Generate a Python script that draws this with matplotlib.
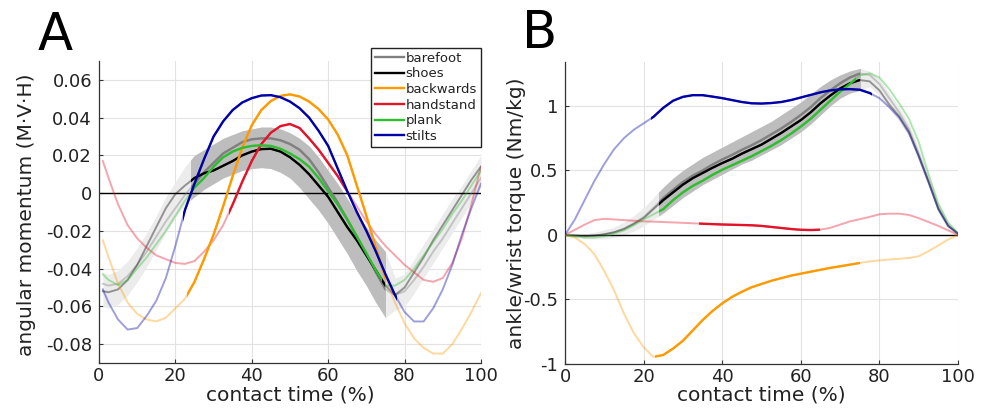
import numpy as np
import matplotlib
matplotlib.use("Agg")
import matplotlib.pyplot as plt
from matplotlib.patches import Rectangle

plt.rcParams['font.family'] = 'DejaVu Sans'
plt.rcParams['axes.unicode_minus'] = False

# ---------------- data ----------------
x_b = np.arange(0, 100.1, 2.5)
x_a = np.r_[1, x_b[1:]]

series = ['barefoot', 'shoes', 'backwards', 'handstand', 'plank', 'stilts']
colors = ['#808080', '#000000', '#FF9900', '#E3132A', '#2DBE2D', '#0000A8']
# (start, end) of the bold part of each curve, % contact time
bold_range = [(24, 75), (24, 75), (23, 75), (34, 65), (24, 74), (22, 78)]

# A: angular momentum
barefoot_a = [-0.048, -0.049, -0.048, -0.044, -0.038, -0.031, -0.023, -0.015, -0.008, -0.001,
              0.005, 0.011, 0.016, 0.021, 0.024, 0.027, 0.0285, 0.029, 0.029, 0.028,
              0.026, 0.023, 0.018, 0.011, 0.003, -0.005, -0.014, -0.023, -0.032, -0.042,
              -0.051, -0.054, -0.052, -0.046, -0.039, -0.031, -0.024, -0.016, -0.008, 0.000, 0.008]
shoes_a = [-0.052, -0.0525, -0.051, -0.046, -0.038, -0.028, -0.018, -0.008, -0.0005, 0.004,
           0.008, 0.0105, 0.012, 0.0145, 0.017, 0.020, 0.022, 0.0233, 0.0235, 0.022,
           0.019, 0.015, 0.010, 0.004, -0.002, -0.010, -0.018, -0.025, -0.033, -0.041,
           -0.049, -0.054, -0.050, -0.042, -0.034, -0.025, -0.017, -0.009, -0.001, 0.007, 0.014]
backwards_a = [-0.025, -0.034, -0.048, -0.058, -0.064, -0.067, -0.068, -0.066, -0.061, -0.056,
               -0.047, -0.035, -0.022, -0.007, 0.009, 0.024, 0.036, 0.044, 0.0488, 0.0515,
               0.0523, 0.0512, 0.0485, 0.0445, 0.039, 0.031, 0.020, 0.004, -0.012, -0.029,
               -0.045, -0.058, -0.069, -0.077, -0.082, -0.085, -0.085, -0.080, -0.072, -0.063, -0.053]
handstand_a = [0.017, 0.008, -0.006, -0.017, -0.024, -0.029, -0.033, -0.035, -0.037, -0.0375,
               -0.036, -0.031, -0.025, -0.017, -0.006, 0.006, 0.017, 0.026, 0.032, 0.0355,
               0.0366, 0.0345, 0.029, 0.023, 0.016, 0.009, 0.001, -0.007, -0.015, -0.022,
               -0.028, -0.033, -0.038, -0.042, -0.046, -0.047, -0.045, -0.037, -0.024, -0.006, 0.014]
plank_a = [-0.043, -0.046, -0.0488, -0.046, -0.040, -0.034, -0.027, -0.020, -0.012, -0.004,
           0.003, 0.008, 0.014, 0.019, 0.022, 0.024, 0.025, 0.0253, 0.025, 0.0235,
           0.021, 0.018, 0.014, 0.008, 0.001, -0.006, -0.014, -0.023, -0.032, -0.041,
           -0.049, -0.049, -0.046, -0.040, -0.033, -0.026, -0.019, -0.011, -0.004, 0.004, 0.012]
stilts_a = [-0.051, -0.058, -0.067, -0.0723, -0.0715, -0.065, -0.057, -0.045, -0.028, -0.009,
            0.005, 0.018, 0.030, 0.038, 0.044, 0.048, 0.0503, 0.0517, 0.0519, 0.0508,
            0.0485, 0.045, 0.040, 0.033, 0.025, 0.013, 0.001, -0.010, -0.020, -0.031,
            -0.043, -0.054, -0.063, -0.068, -0.068, -0.061, -0.051, -0.038, -0.022, -0.008, 0.005]
band_lo_a = [-0.060, -0.061, -0.059, -0.054, -0.047, -0.039, -0.030, -0.021, -0.013, -0.006,
             -0.002, 0.002, 0.005, 0.008, 0.010, 0.012, 0.013, 0.0135, 0.013, 0.011,
             0.008, 0.003, -0.003, -0.009, -0.016, -0.024, -0.032, -0.041, -0.049, -0.058,
             -0.066, -0.062, -0.060, -0.053, -0.045, -0.037, -0.029, -0.021, -0.013, -0.005, 0.003]
band_hi_a = [-0.042, -0.043, -0.041, -0.036, -0.029, -0.021, -0.012, -0.002, 0.006, 0.014,
             0.020, 0.023, 0.026, 0.029, 0.031, 0.033, 0.034, 0.035, 0.035, 0.034,
             0.032, 0.029, 0.025, 0.019, 0.012, 0.005, -0.003, -0.011, -0.018, -0.025,
             -0.031, -0.045, -0.043, -0.035, -0.027, -0.019, -0.011, -0.003, 0.004, 0.012, 0.020]

# B: ankle/wrist torque
barefoot_b = [0, -0.005, -0.01, -0.005, 0.005, 0.022, 0.05, 0.09, 0.14, 0.21,
              0.285, 0.35, 0.41, 0.46, 0.50, 0.545, 0.585, 0.62, 0.66, 0.695,
              0.735, 0.78, 0.825, 0.875, 0.93, 0.99, 1.06, 1.12, 1.175, 1.22,
              1.25, 1.24, 1.17, 1.06, 0.95, 0.82, 0.63, 0.42, 0.21, 0.07, 0.01]
shoes_b = [0, -0.005, -0.01, -0.005, 0.005, 0.02, 0.045, 0.085, 0.13, 0.20,
           0.27, 0.33, 0.39, 0.44, 0.48, 0.52, 0.557, 0.59, 0.63, 0.665,
           0.70, 0.745, 0.79, 0.84, 0.89, 0.95, 1.02, 1.08, 1.135, 1.175,
           1.20, 1.19, 1.12, 1.01, 0.92, 0.80, 0.61, 0.41, 0.20, 0.07, 0.01]
backwards_b = [0, -0.02, -0.07, -0.15, -0.28, -0.43, -0.61, -0.76, -0.87, -0.945,
               -0.93, -0.88, -0.82, -0.74, -0.66, -0.59, -0.53, -0.48, -0.44, -0.405,
               -0.38, -0.355, -0.335, -0.315, -0.30, -0.285, -0.27, -0.255, -0.243, -0.23,
               -0.217, -0.205, -0.197, -0.19, -0.185, -0.178, -0.165, -0.125, -0.08, -0.035, 0.0]
handstand_b = [0, 0.04, 0.08, 0.115, 0.125, 0.12, 0.115, 0.11, 0.105, 0.103,
               0.10, 0.097, 0.094, 0.09, 0.087, 0.084, 0.081, 0.079, 0.077, 0.075,
               0.07, 0.062, 0.054, 0.046, 0.04, 0.038, 0.041, 0.055, 0.08, 0.105,
               0.122, 0.14, 0.16, 0.165, 0.165, 0.155, 0.13, 0.10, 0.07, 0.035, 0.0]
plank_b = [0, -0.01, -0.02, -0.02, -0.01, 0.01, 0.035, 0.075, 0.12, 0.16,
           0.20, 0.27, 0.33, 0.38, 0.42, 0.465, 0.505, 0.54, 0.575, 0.61,
           0.65, 0.69, 0.735, 0.785, 0.84, 0.90, 0.97, 1.04, 1.11, 1.17,
           1.235, 1.253, 1.22, 1.13, 1.02, 0.90, 0.72, 0.47, 0.24, 0.09, 0.015]
stilts_b = [0, 0.12, 0.27, 0.42, 0.55, 0.665, 0.75, 0.815, 0.865, 0.915,
            0.985, 1.04, 1.07, 1.083, 1.083, 1.072, 1.06, 1.045, 1.03, 1.02,
            1.018, 1.022, 1.03, 1.045, 1.065, 1.085, 1.105, 1.12, 1.128, 1.13,
            1.125, 1.10, 1.06, 0.99, 0.91, 0.79, 0.61, 0.41, 0.20, 0.07, 0.01]
band_lo_b = [-0.01, -0.02, -0.03, -0.03, -0.03, -0.02, 0.00, 0.03, 0.07, 0.12,
             0.17, 0.23, 0.29, 0.34, 0.39, 0.43, 0.47, 0.51, 0.55, 0.58,
             0.62, 0.66, 0.70, 0.75, 0.80, 0.86, 0.93, 1.00, 1.06, 1.10,
             1.12, 1.15, 1.08, 0.98, 0.88, 0.76, 0.57, 0.37, 0.17, 0.04, 0.0]
band_hi_b = [0.01, 0.01, 0.01, 0.02, 0.04, 0.06, 0.10, 0.15, 0.21, 0.29,
             0.37, 0.44, 0.50, 0.55, 0.60, 0.64, 0.68, 0.72, 0.76, 0.80,
             0.84, 0.88, 0.93, 0.98, 1.03, 1.09, 1.15, 1.20, 1.24, 1.27,
             1.29, 1.27, 1.21, 1.10, 0.99, 0.86, 0.67, 0.46, 0.25, 0.11, 0.02]

data_a = [barefoot_a, shoes_a, backwards_a, handstand_a, plank_a, stilts_a]
data_b = [barefoot_b, shoes_b, backwards_b, handstand_b, plank_b, stilts_b]


def clip_x(artist, ax, x0, x1):
    r = Rectangle((x0, -100), x1 - x0, 200, transform=ax.transData)
    artist.set_clip_path(r)


def panel(ax, x, ys, lo, hi):
    # light band over whole cycle, darker over the bold range
    ax.fill_between(x, lo, hi, color='#ECECEC', lw=0, zorder=1)
    dark = ax.fill_between(x, lo, hi, color='#BDBDBD', lw=0, zorder=1.5)
    clip_x(dark, ax, 24, 75)
    ax.axhline(0, color='k', lw=1.0, zorder=2)
    for y, c in zip(ys, colors):
        ax.plot(x, y, color=c, lw=1.4, alpha=0.38, zorder=3, solid_joinstyle='round')
    handles = []
    for y, c, (s, e), name in zip(ys, colors, bold_range, series):
        ln, = ax.plot(x, y, color=c, lw=1.7, zorder=4, label=name, solid_joinstyle='round')
        clip_x(ln, ax, s, e)
        handles.append(ln)
    ax.set_xlim(0, 100)
    ax.set_xticks([0, 20, 40, 60, 80, 100])
    ax.grid(True, color='#E2E2E2', lw=0.8)
    ax.set_axisbelow(True)
    for sp in ['top', 'right']:
        ax.spines[sp].set_visible(False)
    for sp in ['left', 'bottom']:
        ax.spines[sp].set_color('#333333')
        ax.spines[sp].set_linewidth(0.9)
    ax.tick_params(direction='in', length=3, labelsize=13, colors='#333333',
                   labelcolor='#222222')
    ax.tick_params(axis='x', pad=3)
    ax.tick_params(axis='y', pad=5)
    ax.set_xlabel('contact time (%)', fontsize=14.5, color='#222222')
    return handles


fig = plt.figure(figsize=(9.89, 4.09), dpi=100)
axA = fig.add_axes([0.1001, 0.1125, 0.3862, 0.7384])
axB = fig.add_axes([0.5713, 0.110, 0.3974, 0.7384])

h = panel(axA, x_a, data_a, band_lo_a, band_hi_a)
axA.set_ylim(-0.09, 0.07)
axA.set_yticks([-0.08, -0.06, -0.04, -0.02, 0, 0.02, 0.04, 0.06])
axA.set_yticklabels(['-0.08', '-0.06', '-0.04', '-0.02', '0', '0.02', '0.04', '0.06'])
axA.set_ylabel('angular momentum (M\u00b7V\u00b7H)', fontsize=14.5, color='#222222')
axA.yaxis.set_label_coords(-0.165, 0.49)
axA.xaxis.set_label_coords(0.5, -0.074)

panel(axB, x_b, data_b, band_lo_b, band_hi_b)
axB.set_ylim(-1, 1.34)
axB.set_yticks([-1, -0.5, 0, 0.5, 1])
axB.set_yticklabels(['-1', '-0.5', '0', '0.5', '1'])
axB.set_ylabel('ankle/wrist torque (Nm/kg)', fontsize=14.5, color='#222222')
axB.yaxis.set_label_coords(-0.10, 0.50)
axB.xaxis.set_label_coords(0.5, -0.071)

leg = fig.legend(handles=h, loc='upper right', bbox_to_anchor=(0.4863, 0.8834),
                 fontsize=9.5, frameon=True, fancybox=False, borderaxespad=0,
                 handlelength=2.2, handletextpad=0.15, labelspacing=0.2,
                 borderpad=0.3)
leg.get_frame().set_edgecolor('#222222')
leg.get_frame().set_linewidth(1.0)
leg.get_frame().set_alpha(1)
for t in leg.get_texts():
    t.set_color('#222222')

fig.text(38 / 989, 1 - 50 / 409, 'A', fontsize=37, va='baseline', ha='left')
fig.text(522 / 989, 1 - 48 / 409, 'B', fontsize=37, va='baseline', ha='left')

fig.savefig('out.png', dpi=100)
